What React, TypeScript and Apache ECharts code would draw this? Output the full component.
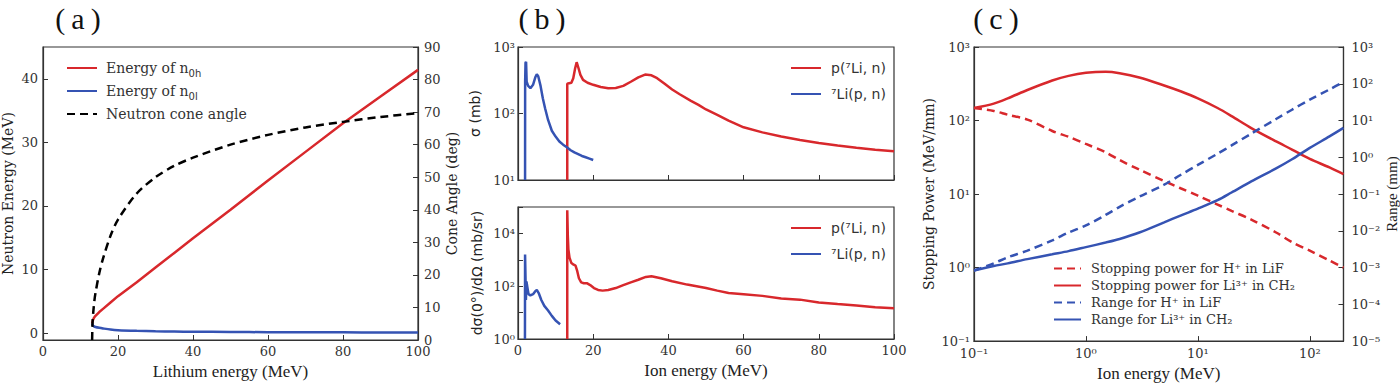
import React, { useEffect, useRef } from "react";
import * as echarts from "echarts";

// ---------- Panel (a) ----------
const A_E = [13.1, 13.3, 13.6, 14, 15, 16, 18, 20, 25, 30, 35, 40, 50, 60, 70, 80, 90, 100];
const A_N0H = [1.5, 2.0, 2.4, 2.7, 3.3, 3.8, 4.8, 5.8, 8.0, 10.3, 12.6, 14.9, 19.4, 24.0, 28.5, 33.0, 37.2, 41.4];
const A_N0L = [1.5, 1.2, 1.05, 0.95, 0.82, 0.72, 0.55, 0.45, 0.34, 0.27, 0.23, 0.2, 0.16, 0.13, 0.11, 0.1, 0.09, 0.08];
const A_ANG_E = [13.1, 13.2, 13.4, 13.7, 14, 15, 16, 18, 20, 25, 30, 35, 40, 50, 60, 70, 80, 90, 100];
const A_ANGLE = [0, 5, 8.5, 12, 14.5, 20.5, 25, 32, 37, 45, 50, 53.5, 56, 60, 63, 65.3, 67, 68.5, 69.7];

// ---------- Panel (b) top: cross section ----------
const B1_RED_E = [13.1, 13.1, 13.6, 14.2, 14.7, 15.2, 15.6, 16.0, 16.6, 17.3, 18.5, 20, 22, 24, 26, 28, 30, 32, 33.8, 35.5, 37, 39, 41, 43, 46, 48, 50, 53, 56, 60, 65, 70, 75, 80, 85, 90, 95, 100];
const B1_RED_V = [10, 280, 285, 290, 340, 480, 590, 500, 380, 320, 290, 270, 250, 240, 242, 260, 300, 350, 385, 375, 340, 280, 230, 195, 155, 135, 115, 95, 78, 62, 52, 45, 40, 36, 33, 30.5, 28.5, 27];
const B1_BLUE_E = [1.88, 1.9, 2.0, 2.15, 2.3, 2.7, 3.3, 4.0, 4.6, 5.0, 5.4, 6.0, 6.6, 7.2, 8.0, 9.0, 10, 11, 12, 13, 14, 15, 16, 17, 18, 19, 20];
const B1_BLUE_V = [10, 300, 580, 600, 300, 260, 240, 270, 350, 390, 360, 260, 170, 120, 80, 55, 45, 38, 34, 31, 28, 26, 24.5, 23, 22, 21, 20];

// ---------- Panel (b) bottom: 0 deg differential ----------
const B2_RED_E = [13.1, 13.1, 13.25, 13.4, 13.7, 14.2, 14.8, 15.3, 15.7, 16.2, 16.8, 17.5, 18.3, 19.2, 20.2, 21.3, 22.5, 24, 26, 28, 30, 32, 34, 35.5, 38, 41, 45, 50, 53, 56, 60, 65, 70, 75, 80, 85, 90, 95, 100];
const B2_RED_V = [1, 75000, 8000, 2500, 1200, 750, 650, 600, 400, 200, 140, 130, 130, 110, 85, 72, 68, 72, 85, 110, 140, 175, 225, 240, 200, 155, 115, 85, 68, 55, 50, 43, 34, 31, 24, 21, 18.5, 16, 14.5];
const B2_BLUE_E = [1.85, 1.88, 2.0, 2.1, 2.25, 2.5, 2.8, 3.3, 4.0, 4.6, 5.0, 5.5, 6.2, 7, 8, 9, 10, 11.2];
const B2_BLUE_V = [1, 1600, 200, 30, 150, 90, 50, 45, 50, 65, 72, 55, 30, 18, 12, 7.5, 5, 3.6];

// ---------- Panel (c) ----------
const C_E = [0.1, 0.15, 0.2, 0.3, 0.5, 0.7, 1, 1.5, 2, 3, 5, 7, 10, 15, 20, 30, 50, 70, 100, 150, 200];
const C_SP_H = [148, 135, 120, 103, 72, 60, 48, 37, 29, 21.5, 15, 12, 9.5, 7.2, 5.9, 4.5, 3.0, 2.2, 1.7, 1.25, 1.0];
const C_SP_LI = [148, 170, 200, 260, 350, 405, 445, 460, 440, 385, 300, 250, 200, 148, 115, 79, 52, 40, 30, 23, 18.6];
const C_R_H = [8.3e-4, 1.3e-3, 1.9e-3, 2.9e-3, 5.5e-3, 9e-3, 0.014, 0.027, 0.045, 0.085, 0.18, 0.33, 0.62, 1.25, 2.1, 4.4, 11, 20, 37, 70, 112];
const C_R_LI = [8.3e-4, 1.1e-3, 1.3e-3, 1.7e-3, 2.3e-3, 2.8e-3, 3.6e-3, 4.8e-3, 6.0e-3, 9.0e-3, 0.017, 0.026, 0.04, 0.068, 0.11, 0.22, 0.5, 0.9, 1.8, 3.7, 6.3];

const NAME_N0H = "Energy of n0h";
const NAME_N0L = "Energy of n0l";
const NAME_CONE = "Neutron cone angle";
const NAME_PLI = "p(⁷Li, n)";
const NAME_LIP = "⁷Li(p, n)";
const NAME_SPH = "Stopping power for H⁺ in LiF";
const NAME_SPLI = "Stopping power for Li³⁺ in CH₂";
const NAME_RH = "Range for H⁺ in LiF";
const NAME_RLI = "Range for Li³⁺ in CH₂";

const RED = "#d8282c";
const BLUE = "#3553b3";
const INK = "#333333";

const SUP: Record<string, string> = { "-": "⁻", "0": "⁰", "1": "¹", "2": "²", "3": "³", "4": "⁴", "5": "⁵", "6": "⁶", "7": "⁷", "8": "⁸", "9": "⁹" };
const pow10 = (v: number) => {
  const e = Math.round(Math.log10(v));
  return "10" + String(e).split("").map((c) => SUP[c]).join("");
};

const zip = (xs: number[], ys: number[]) => xs.map((x, i) => [x, ys[i]]);

const axisBase = {
  axisLine: { show: true, onZero: false, lineStyle: { color: INK, width: 1.2 } },
  axisTick: { show: true, inside: true, length: 5, lineStyle: { color: INK, width: 1 } },
  splitLine: { show: false },
  axisLabel: { fontFamily: "DejaVu Serif", fontSize: 13, color: INK, margin: 5 },
};

const line = (name: string, xi: number, yi: number, data: number[][], color: string, dashed = false, smooth: number | boolean = false) => ({
  name,
  type: "line",
  xAxisIndex: xi,
  yAxisIndex: yi,
  data,
  symbol: "none",
  showSymbol: false,
  smooth,
  lineStyle: { color, width: 2.5, type: dashed ? [8, 5] : "solid" },
  itemStyle: { color },
  emphasis: { disabled: true },
});

const legendBase = {
  orient: "vertical",
  selectedMode: false,
  padding: 0,
  itemStyle: { opacity: 0 },
};

export default function App() {
  const ref = useRef<HTMLDivElement>(null);
  useEffect(() => {
    document.body.style.margin = "0";
    if (!ref.current) return;
    const chart = echarts.init(ref.current, undefined, { renderer: "svg" });
    const option = {
      animation: false,
      backgroundColor: "#ffffff",
      grid: [
        { left: 43, top: 47, width: 375, height: 293, show: true, borderColor: INK, borderWidth: 1.2 },
        { left: 518, top: 47, width: 376, height: 133, show: true, borderColor: INK, borderWidth: 1.2 },
        { left: 518, top: 207, width: 376, height: 132, show: true, borderColor: INK, borderWidth: 1.2 },
        { left: 974, top: 47, width: 373, height: 296, show: true, borderColor: INK, borderWidth: 1.2 },
      ],
      xAxis: [
        {
          ...axisBase, gridIndex: 0, type: "value", min: 0, max: 100, interval: 20,
          name: "Lithium energy (MeV)", nameLocation: "middle", nameGap: 20,
          nameTextStyle: { fontFamily: "Liberation Serif", fontSize: 17, color: "#222" },
        },
        { ...axisBase, gridIndex: 1, type: "value", min: 0, max: 100, interval: 20, axisLabel: { show: false } },
        {
          ...axisBase, gridIndex: 2, type: "value", min: 0, max: 100, interval: 20,
          name: "Ion energy (MeV)", nameLocation: "middle", nameGap: 23,
          nameTextStyle: { fontFamily: "Liberation Serif", fontSize: 17, color: "#222" },
        },
        {
          ...axisBase, gridIndex: 3, type: "log", logBase: 10, min: 0.1, max: 200,
          axisLabel: { ...axisBase.axisLabel, margin: 6, showMaxLabel: false, formatter: (v: number) => pow10(v) },
          name: "Ion energy (MeV)", nameLocation: "middle", nameGap: 23,
          nameTextStyle: { fontFamily: "Liberation Serif", fontSize: 17, color: "#222" },
        },
      ],
      yAxis: [
        {
          ...axisBase, gridIndex: 0, type: "value", min: -1.1, max: 45, splitNumber: 5,
          axisLabel: { ...axisBase.axisLabel, showMinLabel: false, showMaxLabel: false },
          name: "Neutron Energy (MeV)", nameLocation: "middle", nameGap: 28,
          nameTextStyle: { fontFamily: "DejaVu Serif", fontSize: 14, color: "#222" },
        },
        {
          ...axisBase, gridIndex: 0, type: "value", position: "right", min: 0, max: 90, interval: 10,
          axisLabel: { ...axisBase.axisLabel, margin: 6 },
          name: "Cone Angle (deg)", nameLocation: "middle", nameGap: 27,
          nameTextStyle: { fontFamily: "DejaVu Serif", fontSize: 14, color: "#222" },
        },
        {
          ...axisBase, gridIndex: 1, type: "log", logBase: 10, min: 10, max: 1000,
          axisLabel: { ...axisBase.axisLabel, margin: 3, formatter: (v: number) => pow10(v) },
          name: "σ (mb)", nameLocation: "middle", nameGap: 36,
          nameTextStyle: { fontFamily: "DejaVu Sans", fontSize: 14, color: "#222" },
        },
        {
          ...axisBase, gridIndex: 2, type: "log", logBase: 10, min: 1, max: 100000, splitNumber: 5,
          axisLabel: {
            ...axisBase.axisLabel, margin: 3,
            formatter: (v: number) => (Math.round(Math.log10(v)) % 2 === 0 ? pow10(v) : ""),
          },
          name: "dσ(0°)/dΩ (mb/sr)", nameLocation: "middle", nameGap: 34,
          nameTextStyle: { fontFamily: "DejaVu Sans", fontSize: 14, color: "#222" },
        },
        {
          ...axisBase, gridIndex: 3, type: "log", logBase: 10, min: 0.1, max: 1000, splitNumber: 4,
          axisLabel: { ...axisBase.axisLabel, margin: 4, formatter: (v: number) => pow10(v) },
          name: "Stopping Power (MeV/mm)", nameLocation: "middle", nameGap: 38,
          nameTextStyle: { fontFamily: "DejaVu Serif", fontSize: 14, color: "#222" },
        },
        {
          ...axisBase, gridIndex: 3, type: "log", logBase: 10, position: "right", min: 1e-5, max: 1000, splitNumber: 8,
          axisLabel: { ...axisBase.axisLabel, margin: 8, formatter: (v: number) => pow10(v) },
          name: "Range (mm)", nameLocation: "middle", nameGap: 38,
          nameTextStyle: { fontFamily: "Liberation Serif", fontSize: 15, color: "#222" },
        },
      ],
      legend: [
        {
          ...legendBase, data: [NAME_N0H, NAME_N0L, NAME_CONE], left: 66, top: 61,
          itemWidth: 30, itemHeight: 14, itemGap: 6,
          formatter: (n: string) =>
            n === NAME_N0H ? "{t|Energy of n}{s|0h}" : n === NAME_N0L ? "{t|Energy of n}{s|0l}" : "{t|" + n + "}",
          textStyle: {
            color: INK, padding: [0, 0, 0, 4],
            rich: {
              t: { fontFamily: "DejaVu Serif", fontSize: 14, color: INK, lineHeight: 20, verticalAlign: "middle" },
              s: { fontFamily: "DejaVu Sans", fontSize: 10, color: INK, lineHeight: 20, verticalAlign: "bottom" },
            },
          },
        },
        {
          ...legendBase, data: [NAME_PLI, NAME_LIP], left: 790, top: 61,
          itemWidth: 30, itemHeight: 14, itemGap: 12,
          textStyle: { fontFamily: "DejaVu Sans", fontSize: 14, color: INK, padding: [0, 0, 0, 5] },
        },
        {
          ...legendBase, data: [NAME_PLI, NAME_LIP], left: 790, top: 221,
          itemWidth: 30, itemHeight: 14, itemGap: 12,
          textStyle: { fontFamily: "DejaVu Sans", fontSize: 14, color: INK, padding: [0, 0, 0, 5] },
        },
        {
          ...legendBase, data: [NAME_SPH, NAME_SPLI, NAME_RH, NAME_RLI], left: 1053, top: 262,
          itemWidth: 27, itemHeight: 14, itemGap: 4,
          textStyle: { fontFamily: "DejaVu Serif", fontSize: 13, color: INK, padding: [0, 0, 0, 5] },
        },
      ],
      graphic: [
        { type: "text", x: 78, y: 18, style: { text: "(\u2009a\u2009)", fontFamily: "Liberation Serif", fontSize: 30, fill: "#111", align: "center", verticalAlign: "middle" } },
        { type: "text", x: 542, y: 18, style: { text: "(\u2009b\u2009)", fontFamily: "Liberation Serif", fontSize: 30, fill: "#111", align: "center", verticalAlign: "middle" } },
        { type: "text", x: 996, y: 18, style: { text: "(\u2009c\u2009)", fontFamily: "Liberation Serif", fontSize: 30, fill: "#111", align: "center", verticalAlign: "middle" } },
      ],
      series: [
        line(NAME_N0H, 0, 0, zip(A_E, A_N0H), RED),
        line(NAME_N0L, 0, 0, zip(A_E, A_N0L), BLUE, false, 0.3),
        line(NAME_CONE, 0, 1, zip(A_ANG_E, A_ANGLE), "#000000", true, 0.3),
        line(NAME_PLI, 1, 2, zip(B1_RED_E, B1_RED_V), RED),
        line(NAME_LIP, 1, 2, zip(B1_BLUE_E, B1_BLUE_V), BLUE),
        line(NAME_PLI, 2, 3, zip(B2_RED_E, B2_RED_V), RED),
        line(NAME_LIP, 2, 3, zip(B2_BLUE_E, B2_BLUE_V), BLUE),
        line(NAME_SPH, 3, 4, zip(C_E, C_SP_H), RED, true, 0.3),
        line(NAME_SPLI, 3, 4, zip(C_E, C_SP_LI), RED, false, 0.3),
        line(NAME_RH, 3, 5, zip(C_E, C_R_H), BLUE, true, 0.3),
        line(NAME_RLI, 3, 5, zip(C_E, C_R_LI), BLUE, false, 0.3),
      ],
    };
    chart.setOption(option as any);
    return () => chart.dispose();
  }, []);
  return <div ref={ref} style={{ width: 1400, height: 387 }} />;
}
